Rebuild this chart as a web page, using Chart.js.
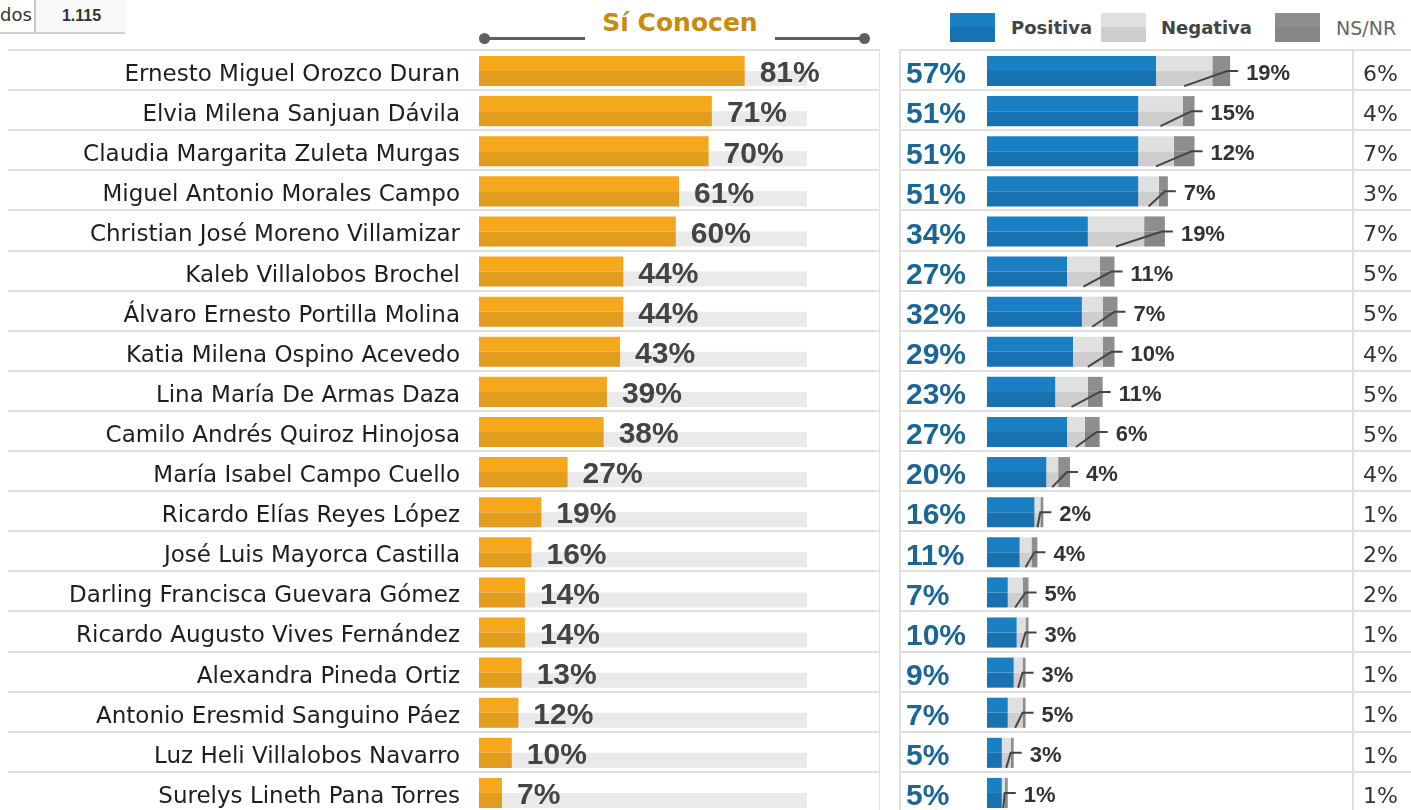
<!DOCTYPE html>
<html>
<head>
<meta charset="utf-8">
<script src="https://cdn.jsdelivr.net/npm/chart.js@4/dist/chart.umd.min.js"></script>
<style>
  body { margin: 0; width: 1411px; height: 810px; overflow: hidden; background: #fff; font-family: "DejaVu Sans", sans-serif; }
  canvas { position: absolute; top: 0; }
  #conocenChart { left: 0; }
  #imagenChart { left: 899px; }
  .cell-label { position: absolute; left: 0; top: 4px; font-size: 18px; color: #333; }
  .cell-value { position: absolute; left: 34px; top: 0; width: 91px; height: 32px; background: #f8f8f8; border-left: 2px solid #c8c8c8; font: bold 16px "Liberation Sans", sans-serif; line-height: 32px; text-align: center; color: #333; }
  .cell-line { position: absolute; left: 0; top: 32px; width: 125px; height: 2px; background: #d0d0d0; }
  .title { position: absolute; left: 590px; top: 8px; width: 180px; text-align: center; font: bold 25px "DejaVu Sans", sans-serif; color: #c98a0e; }
  .rule { position: absolute; top: 37px; height: 3px; background: #5e5e5e; }
  .dot { position: absolute; top: 33px; width: 11px; height: 11px; border-radius: 50%; background: #5e5e5e; }
  .swatch { position: absolute; top: 13px; width: 45px; height: 29px; }
  .leg { position: absolute; top: 14px; font-size: 18px; color: #444; line-height: 28px; }
</style>
</head>
<body>
<div class="cell-label">dos</div>
<div class="cell-value">1.115</div>
<div class="cell-line"></div>

<div class="title">Sí Conocen</div>
<div class="dot" style="left:479px"></div>
<div class="rule" style="left:484px;width:101px"></div>
<div class="rule" style="left:775px;width:89px"></div>
<div class="dot" style="left:859px"></div>

<div class="swatch" style="left:950px;background:linear-gradient(#1a80c4 50%,#1872b2 50%)"></div>
<div class="leg" style="left:1011px;font-weight:bold">Positiva</div>
<div class="swatch" style="left:1101px;background:linear-gradient(#e0e0e0 50%,#cecece 50%)"></div>
<div class="leg" style="left:1161px;font-weight:bold">Negativa</div>
<div class="swatch" style="left:1275px;background:linear-gradient(#8e8e8e 50%,#868686 50%)"></div>
<div class="leg" style="left:1336px;color:#666;font-size:19px">NS/NR</div>

<canvas id="conocenChart" width="880" height="852"></canvas>
<canvas id="imagenChart" width="512" height="852"></canvas>

<script>
const candidatos = [
  'Ernesto Miguel Orozco Duran',
  'Elvia Milena Sanjuan Dávila',
  'Claudia Margarita Zuleta Murgas',
  'Miguel Antonio Morales Campo',
  'Christian José Moreno Villamizar',
  'Kaleb Villalobos Brochel',
  'Álvaro Ernesto Portilla Molina',
  'Katia Milena Ospino Acevedo',
  'Lina María De Armas Daza',
  'Camilo Andrés Quiroz Hinojosa',
  'María Isabel Campo Cuello',
  'Ricardo Elías Reyes López',
  'José Luis Mayorca Castilla',
  'Darling Francisca Guevara Gómez',
  'Ricardo Augusto Vives Fernández',
  'Alexandra Pineda Ortiz',
  'Antonio Eresmid Sanguino Páez',
  'Luz Heli Villalobos Navarro',
  'Surelys Lineth Pana Torres'
];
const conocen  = [81, 71, 70, 61, 60, 44, 44, 43, 39, 38, 27, 19, 16, 14, 14, 13, 12, 10, 7];
const positiva = [57, 51, 51, 51, 34, 27, 32, 29, 23, 27, 20, 16, 11, 7, 10, 9, 7, 5, 5];
const negativa = [19, 15, 12, 7, 19, 11, 7, 10, 11, 6, 4, 2, 4, 5, 3, 3, 5, 3, 1];
const nsnr     = [6, 4, 7, 3, 7, 5, 5, 4, 5, 5, 4, 1, 2, 2, 1, 1, 1, 1, 1];
const fondo    = candidatos.map(() => 100);

const bold = (size, fam) => `bold ${size}px ${fam || '"Liberation Sans", sans-serif'}`;

// grey separators between rows, plus vertical borders
function rowLines(x0, x1, verticals) {
  return {
    id: 'rowLines',
    beforeDatasetsDraw(chart) {
      const y = chart.scales.y, ctx = chart.ctx;
      const step = y.getPixelForValue(1) - y.getPixelForValue(0);
      const top = y.getPixelForValue(0) - step / 2 - 1;
      const bottom = y.getPixelForValue(candidatos.length - 1) + step / 2;
      ctx.save();
      ctx.strokeStyle = '#dfdfdf';
      ctx.lineWidth = 2;
      for (let i = 0; i <= candidatos.length; i++) {
        const py = Math.round(top + i * step);
        ctx.beginPath(); ctx.moveTo(x0, py); ctx.lineTo(x1, py); ctx.stroke();
      }
      verticals.forEach(vx => {
        ctx.beginPath(); ctx.moveTo(vx, top); ctx.lineTo(vx, bottom); ctx.stroke();
      });
      ctx.restore();
    }
  };
}

const conocenLabels = {
  id: 'conocenLabels',
  afterDatasetsDraw(chart) {
    const ctx = chart.ctx, y = chart.scales.y;
    const bars = chart.getDatasetMeta(0).data;
    ctx.save();
    ctx.font = bold(30);
    ctx.fillStyle = '#444';
    ctx.textBaseline = 'middle';
    bars.forEach((bar, i) => {
      ctx.fillText(conocen[i] + '%', bar.x + 15, y.getPixelForValue(i) + 3);
    });
    ctx.restore();
  }
};

new Chart(document.getElementById('conocenChart'), {
  type: 'bar',
  data: {
    labels: candidatos,
    datasets: [
      { data: conocen, stack: 'a', backgroundColor: '#f6a81c', order: 0 },
      { data: conocen, stack: 'b', backgroundColor: '#e29c1e', order: 1 },
      { data: fondo, stack: 'b', backgroundColor: '#eaeaea', order: 2 }
    ]
  },
  options: {
    indexAxis: 'y',
    responsive: false,
    animation: false,
    datasets: { bar: { categoryPercentage: 0.75, barPercentage: 1, borderWidth: 0 } },
    layout: { padding: { top: 51, bottom: 39 } },
    plugins: { legend: { display: false }, tooltip: { enabled: false } },
    scales: {
      x: { min: 0, max: 100 * (880 - 479) / 328, stacked: false, display: false },
      y: {
        grid: { display: false },
        border: { display: false },
        ticks: { autoSkip: false, padding: 11, labelOffset: 4, color: '#1e1e1e', font: { family: '"DejaVu Sans", sans-serif', size: 23 } },
        afterFit(scale) { scale.width = 479; }
      }
    }
  },
  plugins: [rowLines(8, 880, [880]), conocenLabels]
});

const imagenLabels = {
  id: 'imagenLabels',
  afterDatasetsDraw(chart) {
    const ctx = chart.ctx, y = chart.scales.y;
    const negBot = chart.getDatasetMeta(4).data;
    const nsBot = chart.getDatasetMeta(5).data;
    ctx.save();
    ctx.textBaseline = 'middle';
    candidatos.forEach((c, i) => {
      const cy = y.getPixelForValue(i);
      ctx.font = bold(30);
      ctx.fillStyle = '#1a6696';
      ctx.textAlign = 'left';
      ctx.fillText(positiva[i] + '%', 7, cy + 4);

      const nb = negBot[i];
      const sx = (nb.x + nb.base) / 2;
      const sy = nb.y + nb.height / 2;
      const end = nsBot[i].x;
      ctx.strokeStyle = '#444';
      ctx.lineWidth = 2;
      ctx.beginPath();
      ctx.moveTo(sx, sy);
      ctx.lineTo(end - 3, cy);
      ctx.lineTo(end + 8, cy);
      ctx.stroke();
      ctx.font = bold(22);
      ctx.fillStyle = '#333';
      ctx.fillText(negativa[i] + '%', end + 16, cy + 3);

      ctx.font = '22px "DejaVu Sans", sans-serif';
      ctx.textAlign = 'right';
      ctx.fillText(nsnr[i] + '%', 499, cy + 4);
    });
    ctx.restore();
  }
};

new Chart(document.getElementById('imagenChart'), {
  type: 'bar',
  data: {
    labels: candidatos,
    datasets: [
      { data: positiva, stack: 'top', backgroundColor: '#1a80c4' },
      { data: negativa, stack: 'top', backgroundColor: '#e0e0e0' },
      { data: nsnr, stack: 'top', backgroundColor: '#8e8e8e' },
      { data: positiva, stack: 'bot', backgroundColor: '#1872b2' },
      { data: negativa, stack: 'bot', backgroundColor: '#cecece' },
      { data: nsnr, stack: 'bot', backgroundColor: '#868686' }
    ]
  },
  options: {
    indexAxis: 'y',
    responsive: false,
    animation: false,
    datasets: { bar: { categoryPercentage: 0.75, barPercentage: 1, borderWidth: 0 } },
    layout: { padding: { top: 51, bottom: 39, left: 88 } },
    plugins: { legend: { display: false }, tooltip: { enabled: false } },
    scales: {
      x: { min: 0, max: 100 * (512 - 88) / 296.5, stacked: true, display: false },
      y: { display: false }
    }
  },
  plugins: [rowLines(0, 512, [1, 454]), imagenLabels]
});
</script>
</body>
</html>
